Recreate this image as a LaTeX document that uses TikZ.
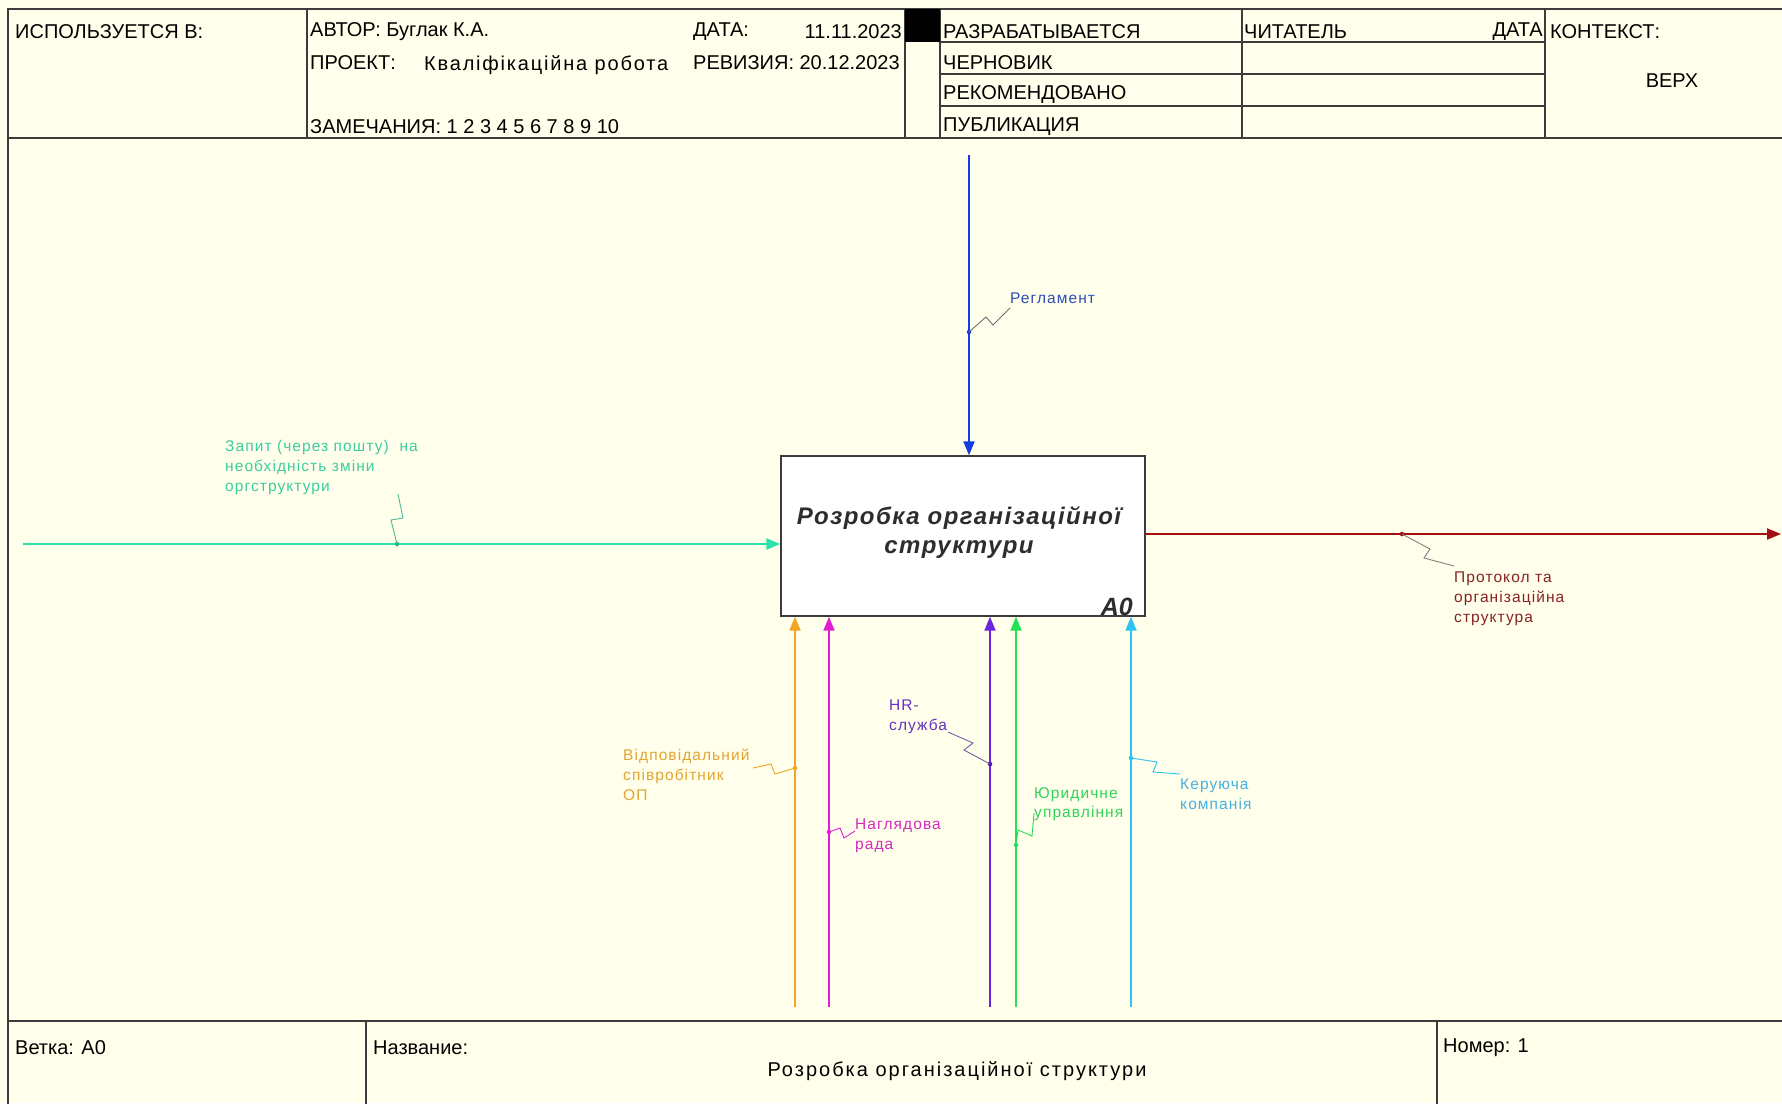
\documentclass[tikz,border=0pt]{standalone}
\usepackage{fontspec}
\setmainfont{Liberation Sans}
\newfontfamily\lblfont[LetterSpace=7]{Liberation Sans}
\newfontfamily\ttlfont[LetterSpace=6]{Liberation Sans}
\newfontfamily\ftlfont[LetterSpace=10]{Liberation Sans}
\newfontfamily\prjfont[LetterSpace=9]{Liberation Sans}
\usetikzlibrary{arrows.meta,calc}
\definecolor{bg}{RGB}{255,255,235}
\definecolor{frame}{RGB}{60,60,60}
\definecolor{cin}{RGB}{45,225,175}
\definecolor{cinT}{RGB}{60,205,160}
\definecolor{cctl}{RGB}{20,60,225}
\definecolor{cctlT}{RGB}{45,75,185}
\definecolor{cout}{RGB}{165,15,20}
\definecolor{coutT}{RGB}{135,35,35}
\definecolor{corg}{RGB}{240,165,35}
\definecolor{corgT}{RGB}{225,165,50}
\definecolor{cmag}{RGB}{225,30,210}
\definecolor{cmagT}{RGB}{210,45,190}
\definecolor{cpur}{RGB}{110,35,225}
\definecolor{cpurT}{RGB}{100,50,190}
\definecolor{cgrn}{RGB}{35,225,85}
\definecolor{cgrnT}{RGB}{50,210,90}
\definecolor{ccyn}{RGB}{45,195,240}
\definecolor{ccynT}{RGB}{70,175,225}
\definecolor{sqg}{RGB}{110,110,120}
\begin{document}
\begin{tikzpicture}[x=1pt,y=-1pt,
  hdr/.style={font=\fontsize{20}{22}\selectfont, text=black, inner sep=0pt, anchor=west},
  lbl/.style={font=\lblfont\fontsize{15.5}{19.8}\selectfont, inner sep=0pt, anchor=north west, align=left},
  arr/.style={line width=2pt, -{Triangle[length=14pt,width=11pt]}},
  sq/.style={line width=0.9pt},
  dotm/.style={circle, fill, inner sep=0pt, minimum size=4.5pt},
  fr/.style={draw=frame, line width=1.6pt},
  frt/.style={draw=frame, line width=1.2pt}]
\useasboundingbox (0,0) rectangle (1782,1103);
\fill[bg] (0,0) rectangle (1782,1103);

% frame
\draw[fr] (1790,9) -- (8,9) -- (8,1110);
\draw[fr] (8,138) -- (1790,138);
\draw[fr] (8,1021) -- (1790,1021);
\foreach \x in {307,905,940,1242,1545} \draw[frt] (\x,9) -- (\x,138);
\foreach \y in {42,74,106} \draw[frt] (940,\y) -- (1545,\y);
\fill[black] (905,9) rectangle (940,42);
\draw[frt] (366,1021) -- (366,1110);
\draw[frt] (1437,1021) -- (1437,1110);

% header texts
\node[hdr] (h1) at (15,32) {ИСПОЛЬЗУЕТСЯ В:};
\node[hdr] (h2) at (310,32) {АВТОР: Буглак К.А.};
\node[hdr] (h3) at (310,63) {ПРОЕКТ:};
\node[hdr, font=\prjfont\fontsize{20}{22}\selectfont] (h4) at (424,65) {Кваліфікаційна робота};
\node[hdr] (h5) at (310,127) {ЗАМЕЧАНИЯ: 1 2 3 4 5 6 7 8 9 10};
\node[hdr] (h6) at (693,32) {ДАТА:};
\node[hdr, anchor=east] (h7) at (902,32) {11.11.2023};
\node[hdr] (h8) at (693,63) {РЕВИЗИЯ: 20.12.2023};
\node[hdr] (s1) at (943,32) {РАЗРАБАТЫВАЕТСЯ};
\node[hdr] (s2) at (943,63) {ЧЕРНОВИК};
\node[hdr] (s3) at (943,95) {РЕКОМЕНДОВАНО};
\node[hdr] (s4) at (943,127) {ПУБЛИКАЦИЯ};
\node[hdr] (r1) at (1244,32) {ЧИТАТЕЛЬ};
\node[hdr, anchor=east] (r2) at (1543,32) {ДАТА};
\node[hdr] (k1) at (1550,32) {КОНТЕКСТ:};
\node[hdr, anchor=center] (k2) at (1672,81) {ВЕРХ};

% footer texts
\node[hdr] (f1) at (15,1048) {Ветка: A0};
\node[hdr] (f2) at (373,1048) {Название:};
\node[hdr] (f3) at (1443,1048) {Номер: 1};
\node[hdr, anchor=center, font=\ftlfont\fontsize{20}{22}\selectfont] (f4) at (957,1071) {Розробка організаційної структури};

% main box
\node[draw=frame, line width=1.4pt, fill=white, minimum width=364pt, minimum height=160pt, inner sep=0pt] (box) at (963,536) {};
\node[font=\ttlfont\fontsize{24}{29}\selectfont\bfseries\itshape, text={rgb,255:red,45;green,45;blue,45}, align=center, inner sep=0pt] (title) at (959,532) {Розробка організаційної\\структури};
\node[font=\fontsize{25}{29}\selectfont\bfseries\itshape, text={rgb,255:red,45;green,45;blue,45}, anchor=south east, inner sep=0pt] (num) at (1133,616) {A0};

% control
\coordinate (c1) at (969,155);
\draw[arr, cctl] (c1) -- (c1 |- box.north);
% input
\coordinate (i1) at (23,544);
\draw[arr, cin, line width=2.4pt] (i1) -- (i1 -| box.west);
% output
\coordinate (o1) at (1781,534);
\draw[arr, cout] (o1 -| box.east) -- (o1);
% mechanisms
\coordinate (m1) at (795,1007);
\coordinate (m2) at (829,1007);
\coordinate (m3) at (990,1007);
\coordinate (m4) at (1016,1007);
\coordinate (m5) at (1131,1007);
\draw[arr, corg] (m1) -- (m1 |- box.south);
\draw[arr, cmag] (m2) -- (m2 |- box.south);
\draw[arr, cpur] (m3) -- (m3 |- box.south);
\draw[arr, cgrn] (m4) -- (m4 |- box.south);
\draw[arr, ccyn] (m5) -- (m5 |- box.south);

% labels
\node[lbl, text=cctlT] (lc1) at (1010,293) {Регламент};
\node[lbl, text=cinT] (li1) at (225,440) {Запит (через пошту)~ на\\необхідність зміни\\оргструктури};
\node[lbl, text=coutT] (lo1) at (1454,572) {Протокол та\\організаційна\\структура};
\node[lbl, text=corgT] (lm1) at (623,749) {Відповідальний\\співробітник\\ОП};
\node[lbl, text=cmagT] (lm2) at (855,819) {Наглядова\\рада};
\node[lbl, text=cpurT] (lm3) at (889,700) {HR-\\служба};
\node[lbl, text=cgrnT] (lm4) at (1034,787) {Юридичне\\управління};
\node[lbl, text=ccynT] (lm5) at (1180,779) {Керуюча\\компанія};

% dots and squiggles
\node[dotm, cctl] (dc1) at (969,332) {};
\draw[sq, sqg] (dc1.center) -- (986,317) -- (993,325) -- (1010,308) coordinate (ec1);
\node[dotm, cin!80!black] (di1) at (397,544) {};
\draw[sq, cin!60!gray] (di1.center) -- (391,520) -- (403,518) -- (398,494) coordinate (ei1);
\node[dotm, cout] (do1) at (1402,534) {};
\draw[sq, gray] (do1.center) -- (1430,549) -- (1424,558) -- (1454,566) coordinate (eo1);
\node[dotm, corg] (dm1) at (795,768) {};
\draw[sq, corg] (dm1.center) -- (775,774) -- (771,764) -- (753,768) coordinate (em1);
\node[dotm, cmag] (dm2) at (829,832) {};
\draw[sq, cmag] (dm2.center) -- (840,828) -- (844,838) -- (855,831) coordinate (em2);
\node[dotm, cpur!70!black] (dm3) at (990,764) {};
\draw[sq, cpur!40!gray] (dm3.center) -- (964,750) -- (973,743) -- (948,732) coordinate (em3);
\node[dotm, cgrn] (dm4) at (1016,845) {};
\draw[sq, cgrn] (dm4.center) -- (1018,830) -- (1032,836) -- (1034,813) coordinate (em4);
\node[dotm, ccyn] (dm5) at (1131,758) {};
\draw[sq, ccyn] (dm5.center) -- (1157,762) -- (1153,772) -- (1180,774) coordinate (em5);
\end{tikzpicture}
\end{document}
